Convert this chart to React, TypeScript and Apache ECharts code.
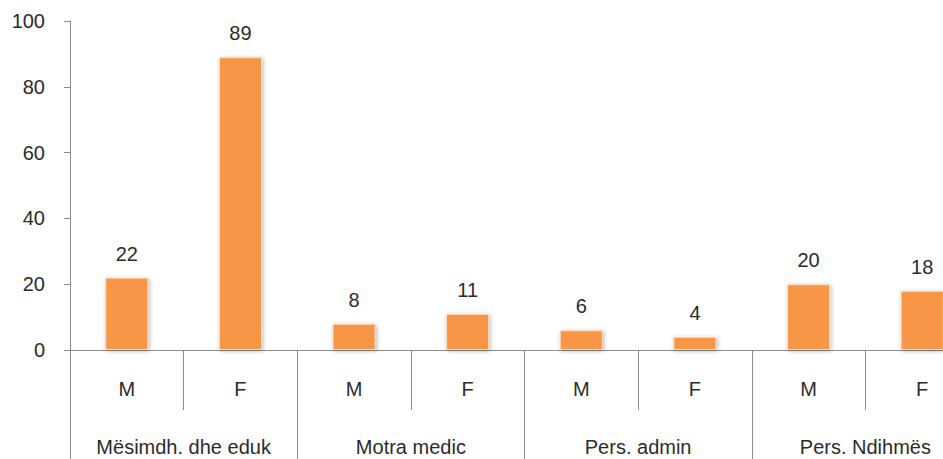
import React, { useEffect, useRef } from "react";
import * as echarts from "echarts";

const categories = ["M", "F", "M", "F", "M", "F", "M", "F"];
const groups = ["Mësimdh. dhe eduk", "Motra medic", "Pers. admin", "Pers. Ndihmës"];
const values = [22, 89, 8, 11, 6, 4, 20, 18];
const yTicks = { min: 0, max: 100, interval: 20 };

const FONT = "'Liberation Sans', Arial, sans-serif";
const TEXT = "#2b2b2b";
const AXIS = "#8c8c8c";
const FS = 20;

export default function App() {
  const ref = useRef<HTMLDivElement>(null);
  useEffect(() => {
    if (!ref.current) return;
    const chart = echarts.init(ref.current, undefined, { renderer: "svg" });
    chart.setOption({
      animation: false,
      grid: { left: 70, top: 21, bottom: 109, right: 21, containLabel: false },
      xAxis: [
        {
          type: "category",
          data: categories,
          position: "bottom",
          axisLine: { show: true, lineStyle: { color: AXIS, width: 1 } },
          axisTick: { show: true, interval: 0, length: 60, lineStyle: { color: AXIS } },
          axisLabel: { color: TEXT, fontSize: FS, fontFamily: FONT, margin: 29, interval: 0 },
        },
        {
          type: "category",
          data: groups,
          position: "bottom",
          axisLine: { show: false },
          axisTick: { show: true, interval: 0, length: 120, lineStyle: { color: AXIS } },
          axisLabel: { color: TEXT, fontSize: FS, fontFamily: FONT, margin: 87, interval: 0 },
        },
      ],
      yAxis: {
        type: "value",
        min: yTicks.min,
        max: yTicks.max,
        interval: yTicks.interval,
        axisLine: { show: true, lineStyle: { color: AXIS } },
        axisTick: { show: true, length: 6, lineStyle: { color: AXIS } },
        splitLine: { show: false },
        axisLabel: { color: TEXT, fontSize: FS, fontFamily: FONT, margin: 25 },
      },
      series: [
        {
          type: "bar",
          xAxisIndex: 0,
          data: values,
          barWidth: "38%",
          itemStyle: {
            color: "#F79646",
            borderColor: "#fbe0cc",
            borderWidth: 1,
            shadowBlur: 4,
            shadowColor: "rgba(0,0,0,0.3)",
            shadowOffsetX: 1,
            shadowOffsetY: 1,
          },
          label: {
            show: true,
            position: "top",
            distance: 14,
            color: TEXT,
            fontSize: FS,
            fontFamily: FONT,
          },
        },
      ],
    });
    return () => chart.dispose();
  }, []);
  return (
    <div
      style={{
        position: "fixed",
        left: 0,
        top: 0,
        width: 943,
        height: 459,
        overflow: "hidden",
        background: "#fff",
      }}
    >
      <div ref={ref} style={{ width: 1000, height: 459 }} />
    </div>
  );
}
